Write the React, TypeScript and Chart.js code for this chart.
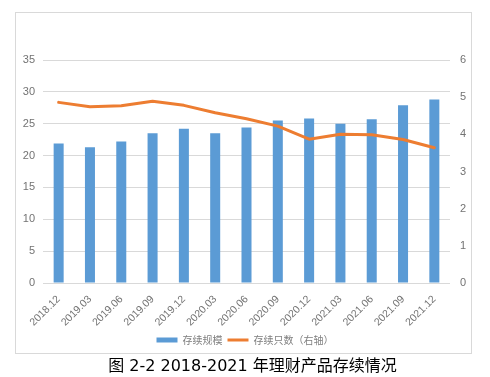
import React, { useEffect, useRef } from "react";
import { Chart, registerables } from "chart.js";

Chart.register(...registerables);

const categories = ["2018.12", "2019.03", "2019.06", "2019.09", "2019.12", "2020.03", "2020.06", "2020.09", "2020.12", "2021.03", "2021.06", "2021.09", "2021.12"];
const scaleValues = [21.9, 21.3, 22.2, 23.5, 24.2, 23.5, 24.4, 25.5, 25.8, 25.0, 25.7, 27.9, 28.8];
const countValues = [4.86, 4.74, 4.77, 4.89, 4.78, 4.58, 4.42, 4.22, 3.87, 4.0, 3.99, 3.86, 3.64];
const leftTicks = { min: 0, max: 35, step: 5 };
const rightTicks = { min: 0, max: 6, step: 1 };
const seriesNames = ["存续规模", "存续只数（右轴）"];
const caption = "图 2-2 2018-2021 年理财产品存续情况";

const tickColor = "#737373";
const tickFont = { family: "'Liberation Sans', 'DejaVu Sans', sans-serif", size: 11 };

export default function App() {
  const ref = useRef<HTMLCanvasElement | null>(null);
  useEffect(() => {
    if (!ref.current) return;
    const chart = new Chart(ref.current, {
      type: "bar",
      data: {
        labels: categories,
        datasets: [
          {
            type: "bar",
            label: seriesNames[0],
            data: scaleValues,
            backgroundColor: "#5B9BD5",
            borderWidth: 0,
            categoryPercentage: 1,
            barPercentage: 0.32,
            yAxisID: "y",
            pointStyle: "rect",
          } as any,
          {
            type: "line",
            label: seriesNames[1],
            data: countValues,
            borderColor: "#ED7D31",
            backgroundColor: "#ED7D31",
            borderWidth: 3,
            pointRadius: 0,
            pointStyle: "line",
            borderJoinStyle: "round",
            borderCapStyle: "round",
            tension: 0,
            yAxisID: "y1",
            order: -1,
          } as any,
        ],
      },
      options: {
        animation: false,
        responsive: false,
        maintainAspectRatio: false,
        layout: { padding: { top: 60, left: 0, right: 0, bottom: 0 } },
        plugins: {
          tooltip: { enabled: false },
          legend: {
            position: "bottom",
            labels: {
              usePointStyle: true,
              pointStyleWidth: 21,
              boxHeight: 5,
              padding: 5,
              color: "#7f7f7f",
              font: { family: "'Noto Sans CJK SC', sans-serif", size: 10 },
              sort: (a: any, b: any) => a.datasetIndex - b.datasetIndex,
            },
          },
        },
        scales: {
          x: {
            grid: { display: false },
            border: { display: false },
            ticks: {
              color: tickColor,
              font: { ...tickFont, size: 10.5 },
              maxRotation: 45,
              minRotation: 45,
              padding: 2,
            },
            afterFit: (s: any) => {
              s.height = 47;
            },
          },
          y: {
            position: "left",
            min: leftTicks.min,
            max: leftTicks.max,
            ticks: { stepSize: leftTicks.step, color: tickColor, font: tickFont, padding: 8 },
            grid: { color: "#d9d9d9", drawTicks: false, lineWidth: 1 },
            border: { display: false },
            afterFit: (s: any) => {
              s.width = 43;
            },
          },
          y1: {
            position: "right",
            min: rightTicks.min,
            max: rightTicks.max,
            ticks: { stepSize: rightTicks.step, color: tickColor, font: tickFont, padding: 10 },
            grid: { display: false, drawTicks: false },
            border: { display: false },
            afterFit: (s: any) => {
              s.width = 40;
            },
          },
        },
      } as any,
    });
    return () => chart.destroy();
  }, []);

  return (
    <div style={{ position: "fixed", left: 0, top: 0, width: 490, height: 377, background: "#fff" }}>
      <div
        style={{
          position: "absolute",
          left: 15,
          top: 12,
          width: 457,
          height: 342,
          border: "1px solid #d9d9d9",
          boxSizing: "border-box",
        }}
      />
      <canvas ref={ref} width={490} height={355} style={{ position: "absolute", left: 0, top: 0, width: 490, height: 355 }} />
      <div
        style={{
          position: "absolute",
          left: 0,
          width: 505,
          top: 355,
          height: 22,
          lineHeight: "22px",
          textAlign: "center",
          fontFamily: "'DejaVu Sans', 'Noto Sans CJK SC', sans-serif",
          fontSize: 16,
          color: "#000",
          whiteSpace: "nowrap",
        }}
      >
        {caption}
      </div>
    </div>
  );
}
